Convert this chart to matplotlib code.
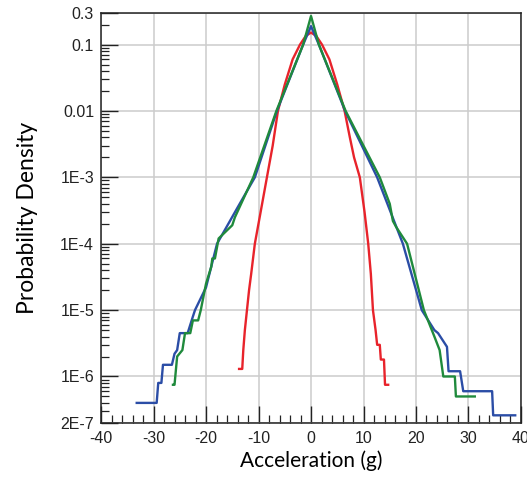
import numpy as np
import matplotlib
matplotlib.use('Agg')
from matplotlib import pyplot as plt
from matplotlib.ticker import FixedLocator, NullFormatter

plt.rcParams['axes.unicode_minus'] = False

# dati (accelerazione in g, densita' di probabilita')
x_red = [-13.7, -13.1, -12.9, -12.6, -12.2, -11.8, -11.4, -10.7, -9.6, -8.4, -7.3, -6.3,
         -5.0, -3.5, -2.1, -1.0, 0.0, 1.0, 2.1, 3.5, 5.0, 6.4, 7.4, 8.2, 9.3, 10.2, 10.9,
         11.4, 11.8, 12.3, 12.6, 13.1, 13.3, 13.9, 14.1, 14.7]
y_red = [1.3e-6, 1.3e-6, 2.5e-6, 5e-6, 1e-5, 2e-5, 3.5e-5, 1e-4, 3e-4, 1e-3, 3e-3, 1e-2,
         2.5e-2, 6e-2, 0.1, 0.135, 0.152, 0.135, 0.1, 6e-2, 2.5e-2, 1e-2, 4e-3, 2e-3, 1e-3,
         3e-4, 1e-4, 3.5e-5, 1e-5, 5e-6, 3e-6, 3e-6, 1.8e-6, 1.8e-6, 7.5e-7, 7.5e-7]

x_blue = [-33.2, -29.4, -29.1, -28.5, -28.2, -26.5, -26.0, -25.5, -25.0, -23.5, -22.5,
          -22.1, -20.0, -17.9, -14.0, -10.7, -6.5, -1.5, 0.0, 1.5, 6.5, 12.6, 17.5, 21.1,
          23.5, 24.2, 25.9, 26.2, 28.4, 29.0, 34.5, 34.7, 38.9]
y_blue = [4e-7, 4e-7, 8e-7, 8e-7, 1.5e-6, 1.5e-6, 2.2e-6, 2.5e-6, 4.5e-6, 4.5e-6, 8e-6,
          1e-5, 2.2e-5, 1e-4, 3.5e-4, 1e-3, 1e-2, 0.1, 0.19, 0.1, 1e-2, 1e-3, 1e-4, 1e-5,
          5e-6, 4.5e-6, 2.8e-6, 1.2e-6, 1.2e-6, 6e-7, 6e-7, 2.6e-7, 2.6e-7]

x_green = [-26.3, -26.0, -25.5, -24.5, -24.0, -23.0, -22.5, -21.5, -21.0, -20.0, -19.0,
           -18.8, -18.3, -17.6, -15.0, -14.5, -11.0, -6.6, -1.5, 0.0, 1.5, 6.6, 13.1, 15.0,
           15.6, 16.2, 18.3, 21.5, 23.5, 24.5, 25.2, 27.4, 27.6, 31.2]
y_green = [7.5e-7, 7.5e-7, 2e-6, 2.5e-6, 4.5e-6, 4.5e-6, 7e-6, 7e-6, 1e-5, 2.5e-5, 4.5e-5,
           6e-5, 6e-5, 1.2e-4, 1.9e-4, 2.5e-4, 1e-3, 1e-2, 0.1, 0.27, 0.1, 1e-2, 1e-3, 4e-4,
           2.2e-4, 1.8e-4, 1e-4, 1e-5, 4e-6, 2.5e-6, 1e-6, 1e-6, 5e-7, 5e-7]

y_ticks = [0.3, 0.1, 0.01, 1e-3, 1e-4, 1e-5, 1e-6, 2e-7]
y_labels = ['0.3', '0.1', '0.01', '1E-3', '1E-4', '1E-5', '1E-6', '2E-7']
x_ticks = [-40, -30, -20, -10, 0, 10, 20, 30, 40]

fig = plt.figure(figsize=(5.27, 4.8), dpi=100)
ax = fig.add_axes([0.1917, 0.119, 0.7969, 0.854])

ax.plot(x_red, y_red, color='#e8232b', lw=1.7)
ax.plot(x_blue, y_blue, color='#2b4da6', lw=1.7)
ax.plot(x_green, y_green, color='#1f8a3c', lw=1.7)

ax.set_yscale('log')
ax.set_xlim(-40, 40)
ax.set_ylim(2e-7, 0.3)

ax.yaxis.set_major_locator(FixedLocator(y_ticks))
ax.set_yticklabels(y_labels)
minor_y = [m * 10.0**e for e in range(-7, 0) for m in range(2, 10) if 2e-7 < m * 10.0**e < 0.3]
ax.yaxis.set_minor_locator(FixedLocator(minor_y))
ax.yaxis.set_minor_formatter(NullFormatter())
ax.set_xticks(x_ticks)
ax.xaxis.set_minor_locator(FixedLocator([v for v in range(-38, 40, 2) if v % 10 != 0]))

ax.tick_params(which='major', direction='in', length=12.5, width=1, labelsize=11.5,
               labelfontfamily='Liberation Sans', colors='#222222')
ax.tick_params(which='minor', direction='in', length=5.5, width=0.9, colors='#222222')
ax.tick_params(axis='x', pad=6)
ax.tick_params(axis='y', pad=5)

ax.grid(True, which='major', color='#cccccc', lw=1.1)
ax.set_axisbelow(True)
for s in ax.spines.values():
    s.set_color('#222222')
    s.set_linewidth(1.1)

ax.set_xlabel('Acceleration (g)', fontsize=15, family='Lato', labelpad=3)
ax.set_ylabel('Probability Density', fontsize=16.5, family='Lato', labelpad=16)

fig.savefig('out.png', dpi=100)
